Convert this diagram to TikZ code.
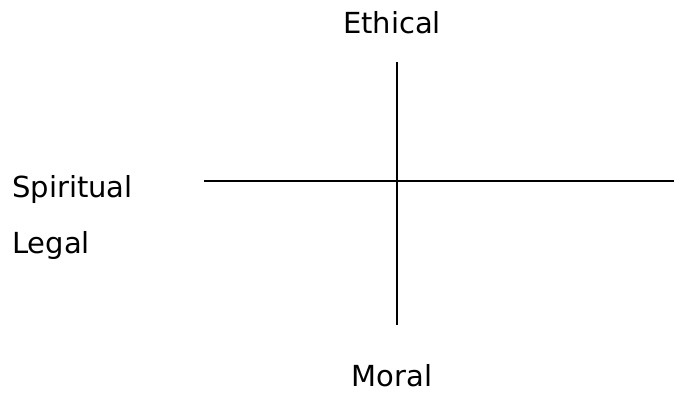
\documentclass[tikz,border=0pt]{standalone}
\usepackage{fontspec}
\setmainfont{DejaVu Sans}
\usepackage{tikz}
\usetikzlibrary{positioning}
\tikzset{axislabel/.style={inner sep=0pt,font=\fontsize{29}{34}\selectfont},
  axisline/.style={line width=1.4pt}}

\begin{document}
\begin{tikzpicture}[x=1pt,y=-1pt]
  \useasboundingbox (0,0) rectangle (674,411);
  \node[axislabel] (ethical) at (392,23) {Ethical};
  \node[axislabel] (moral) at (392,376) {Moral};
  \node[axislabel,anchor=west] (spiritual) at (12,190) {Spiritual};
  \node[axislabel,anchor=west] (legal) at (12,246) {Legal};
  \coordinate (top) at (397,62);
  \coordinate (bottom) at (397,325);
  \coordinate (left) at (204,181);
  \coordinate (right) at (674,181);
  \draw[axisline] (top) -- (bottom);
  \draw[axisline] (left) -- (right);
\end{tikzpicture}
\end{document}
